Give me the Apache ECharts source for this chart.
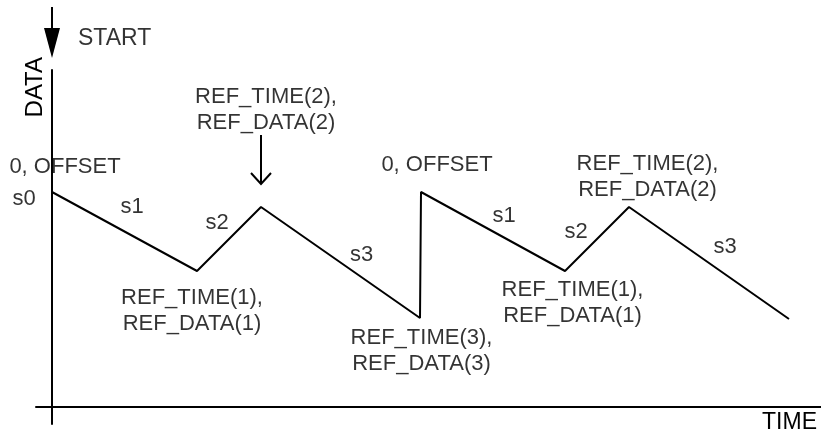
<!DOCTYPE html>
<html>
<head>
<meta charset="utf-8">
<script src="https://cdn.jsdelivr.net/npm/echarts@6/dist/echarts.min.js"></script>
<style>
html,body{margin:0;padding:0;background:#fff;}
#chart{width:821px;height:437px;}
</style>
</head>
<body>
<div id="chart"></div>
<script>
// Waveform vertices (TIME, DATA)
const timeValues = [0, 145, 209, 368, 369, 513, 577, 737];
const dataValues = [215, 136, 200, 89, 215, 136, 200, 88];

// Annotation texts and their anchor positions in (TIME, DATA) units
const labelTexts = [
  '0, OFFSET', 's0', 's1', 's2', 'REF_TIME(2),\nREF_DATA(2)', 's3', 'REF_TIME(1),\nREF_DATA(1)',
  '0, OFFSET', 'REF_TIME(3),\nREF_DATA(3)', 's1', 's2', 'REF_TIME(2),\nREF_DATA(2)', 's3', 'REF_TIME(1),\nREF_DATA(1)'
];
const labelTimes = [13, -28, 80, 165, 214, 309.5, 140, 385, 369.5, 452, 524, 595.5, 673, 520.5];
const labelData  = [240, 208, 200, 184, 297, 152, 96, 242, 56, 191, 175, 230, 160, 104];

const startText = 'START';
const startPos = [26, 368];

// Arrows (TIME, DATA)
const startArrow = [[0, 400], [0, 364]];
const refArrowStem = [[209, 272], [209, 223]];
const refArrowHead = [[199, 234], [209, 223], [219, 234]];

const axisNames = { x: 'TIME', y: 'DATA' };

const FONT = "'Liberation Sans', Arial, sans-serif";
const chart = echarts.init(document.getElementById('chart'), null, { renderer: 'canvas' });

const labelPoints = labelTexts.map((t, i) => ({ value: [labelTimes[i], labelData[i]], name: t }));

chart.setOption({
  backgroundColor: '#ffffff',
  animation: false,
  grid: { left: 36, right: 0, top: 70, bottom: 13, containLabel: false, outerBoundsMode: 'none' },
  xAxis: {
    type: 'value', min: -16, max: 769,
    axisLine: { onZero: true, lineStyle: { color: '#000', width: 2 } },
    axisTick: { show: false }, axisLabel: { show: false }, splitLine: { show: false },
    name: axisNames.x, nameLocation: 'end', nameGap: -4,
    nameTextStyle: { fontFamily: FONT, fontSize: 23, color: '#000', align: 'right', verticalAlign: 'top', padding: [4, 0, 0, 0] }
  },
  yAxis: {
    type: 'value', min: -17, max: 337,
    axisLine: { onZero: true, lineStyle: { color: '#000', width: 2 } },
    axisTick: { show: false }, axisLabel: { show: false }, splitLine: { show: false },
    name: axisNames.y, nameLocation: 'end', nameGap: 13, nameRotate: 90,
    nameTextStyle: { fontFamily: FONT, fontSize: 24, color: '#000', align: 'right', verticalAlign: 'bottom', padding: [0, 0, 5, 0] }
  },
  series: [
    {
      type: 'line',
      data: timeValues.map((t, i) => [t, dataValues[i]]),
      symbol: 'none',
      lineStyle: { color: '#000', width: 2 },
      clip: false
    },
    {
      type: 'scatter',
      data: labelPoints,
      symbolSize: 0,
      clip: false,
      label: {
        show: true, position: 'inside', formatter: p => p.name,
        fontFamily: FONT, fontSize: 22, color: '#000', lineHeight: 26, align: 'center', verticalAlign: 'middle'
      }
    },
    {
      type: 'scatter',
      data: [{ value: startPos, name: startText }],
      symbolSize: 0,
      clip: false,
      label: {
        show: true, position: 'inside', formatter: p => p.name,
        fontFamily: FONT, fontSize: 23, color: '#000', align: 'left', verticalAlign: 'middle'
      }
    },
    {
      type: 'lines',
      coordinateSystem: 'cartesian2d',
      clip: false,
      lineStyle: { color: '#000', width: 2, opacity: 1 },
      symbol: ['none', 'triangle'],
      symbolSize: [[1, 1], [16, 30]],
      data: [{ coords: startArrow }]
    },
    {
      type: 'lines',
      coordinateSystem: 'cartesian2d',
      clip: false,
      polyline: true,
      lineStyle: { color: '#000', width: 2, opacity: 1 },
      data: [{ coords: refArrowStem }, { coords: refArrowHead }]
    }
  ]
});
</script>
</body>
</html>
